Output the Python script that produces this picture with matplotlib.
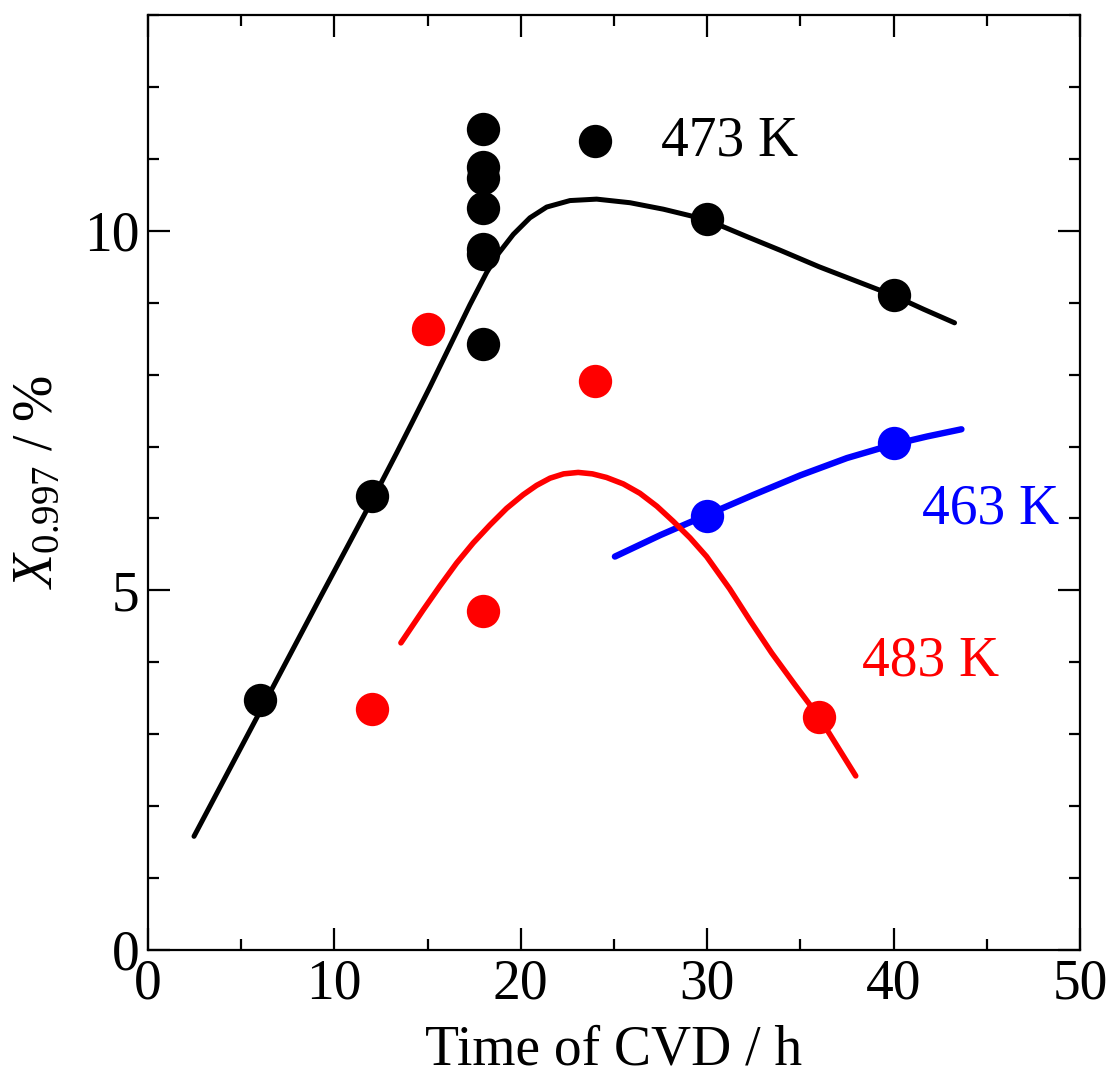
import matplotlib
matplotlib.use("Agg")
import matplotlib.pyplot as plt
from matplotlib.ticker import MultipleLocator

plt.rcParams['font.family'] = ['Liberation Serif', 'DejaVu Serif']
plt.rcParams['mathtext.fontset'] = 'custom'
plt.rcParams['mathtext.rm'] = 'Liberation Serif'
plt.rcParams['mathtext.it'] = 'Liberation Serif:italic'

# ---- data: measured points ----
x473 = [6, 12, 18, 18, 18, 18, 18, 18, 18, 24, 30, 40]
y473 = [3.48, 6.31, 8.43, 9.68, 9.75, 10.31, 10.73, 10.88, 11.42, 11.25, 10.16, 9.10]
x483 = [12, 15, 18, 24, 36]
y483 = [3.35, 8.63, 4.71, 7.91, 3.24]
x463 = [30, 40]
y463 = [6.04, 7.05]

# ---- data: fitted curves ----
cx473 = [2.47, 6.0, 9.3, 10.66, 11.46, 12.4, 13.34, 14.2, 15.13, 16.2, 17.27,
         18.17, 18.79, 19.6, 20.49, 21.39, 22.64, 24.07, 25.86, 27.65, 29.08,
         30.0, 32.12, 33.91, 36.0, 38.0, 40.0, 41.6, 43.27]
cy473 = [1.58, 3.31, 4.93, 5.59, 5.98, 6.44, 6.91, 7.35, 7.83, 8.40, 8.97,
         9.42, 9.68, 9.95, 10.18, 10.33, 10.42, 10.44, 10.39, 10.30, 10.21,
         10.15, 9.92, 9.73, 9.50, 9.30, 9.10, 8.91, 8.72]
cx483 = [13.57, 14.77, 15.66, 16.56, 17.45, 18.35, 19.24, 20.13, 20.85, 21.57,
         22.3, 23.08, 23.84, 24.6, 25.5, 26.39, 27.3, 28.18, 29.08, 29.97,
         31.21, 32.3, 33.46, 34.7, 36.0, 37.97]
cy483 = [4.27, 4.73, 5.06, 5.38, 5.66, 5.91, 6.14, 6.33, 6.46, 6.56,
         6.62, 6.64, 6.62, 6.57, 6.48, 6.35, 6.17, 5.96, 5.73, 5.47,
         5.02, 4.58, 4.13, 3.69, 3.24, 2.42]
cx463 = [25.05, 27.5, 30.0, 32.5, 35.0, 37.5, 40.0, 41.8, 43.64]
cy463 = [5.47, 5.77, 6.05, 6.33, 6.60, 6.84, 7.03, 7.14, 7.24]

labels = ["473 K", "463 K", "483 K"]

fig = plt.figure(figsize=(11.15, 10.8), dpi=100)
ax = fig.add_axes([0.1327, 0.1204, 0.8359, 0.8657])

FS = 40
ms = 24

line_kw = dict(solid_capstyle='round', solid_joinstyle='round', zorder=2)
ax.plot(cx473, cy473, color='black', lw=3.6, **line_kw)
ax.plot(cx463, cy463, color='#0000ff', lw=4.6, **line_kw)
ax.plot(cx483, cy483, color='#ff0000', lw=4.0, **line_kw)

ax.plot(x473, y473, 'o', color='black', ms=ms, mec='none', zorder=3)
ax.plot(x483, y483, 'o', color='#ff0000', ms=ms, mec='none', zorder=3)
ax.plot(x463, y463, 'o', color='#0000ff', ms=ms, mec='none', zorder=3)

ax.text(27.5, 11.05, labels[0], color='black', fontsize=FS, ha='left', va='baseline')
ax.text(41.5, 5.93, labels[1], color='#0000ff', fontsize=FS, ha='left', va='baseline')
ax.text(38.3, 3.82, labels[2], color='#ff0000', fontsize=FS, ha='left', va='baseline')

ax.set_xlim(0, 50)
ax.set_ylim(0, 13)
ax.xaxis.set_major_locator(MultipleLocator(10))
ax.xaxis.set_minor_locator(MultipleLocator(5))
ax.yaxis.set_major_locator(MultipleLocator(5))
ax.yaxis.set_minor_locator(MultipleLocator(1))

ax.tick_params(which='both', direction='in', top=True, right=True, width=1.6,
               labelsize=FS, pad=6)
ax.tick_params(which='major', length=16)
ax.tick_params(which='minor', length=8)
for s in ax.spines.values():
    s.set_linewidth(1.6)

ax.set_xlabel('Time of CVD / h', fontsize=FS, labelpad=10)
ax.set_ylabel(r'$X_{0.997}$ / %', fontsize=FS, labelpad=14)

fig.savefig('out.png', dpi=100)
